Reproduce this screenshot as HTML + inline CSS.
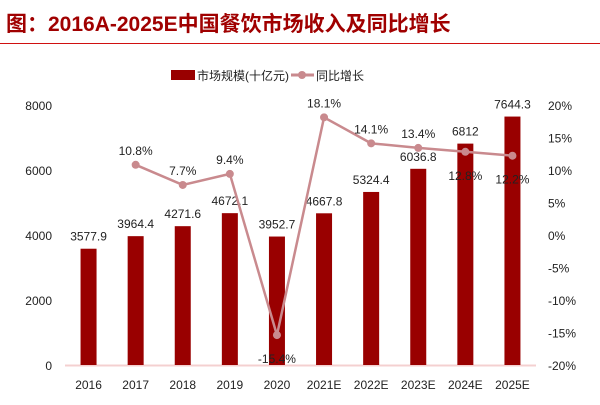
<!DOCTYPE html>
<html><head><meta charset="utf-8"><style>
body{margin:0;width:600px;height:400px;background:#fff;overflow:hidden;font-family:"Liberation Sans","Noto Sans CJK SC",sans-serif}
</style></head><body>
<svg width="600" height="400" style="font-family:'Liberation Sans','Noto Sans CJK SC',sans-serif">
<text x="6" y="31" font-size="21" font-weight="bold" fill="#a00000">图：2016A-2025E中国餐饮市场收入及同比增长</text>
<line x1="0" y1="43.5" x2="600" y2="43.5" stroke="#d01010" stroke-width="1"/>
<g>
<rect x="171" y="70" width="24" height="10" fill="#990000"/>
<text x="197" y="80" font-size="12" fill="#222">市场规模(十亿元)</text>
<line x1="291" y1="75" x2="314" y2="75" stroke="#c98a8e" stroke-width="3"/>
<circle cx="302" cy="75" r="4" fill="#c98a8e"/>
<text x="316" y="80" font-size="12" fill="#222">同比增长</text>
</g>
<g id="plot"></g>
</svg>
<script>
const categories=["2016","2017","2018","2019","2020","2021E","2022E","2023E","2024E","2025E"];
const revenue=[3577.9,3964.4,4271.6,4672.1,3952.7,4667.8,5324.4,6036.8,6812,7644.3];
const growth=[null,10.8,7.7,9.4,-15.4,18.1,14.1,13.4,12.8,12.2];
const below=[false,false,false,false,true,false,false,false,true,true];
const leftTicks=[0,2000,4000,6000,8000];
const rightTicks=[-20,-15,-10,-5,0,5,10,15,20];
const NS="http://www.w3.org/2000/svg";
const g=document.getElementById('plot');
const x0=65,x1=536,yTop=105,yBot=365;
const band=(x1-x0)/categories.length;
const xc=i=>x0+band*(i+0.5);
const yL=v=>yBot-(v/8000)*(yBot-yTop);
const yR=v=>yBot-((v+20)/40)*(yBot-yTop);
function el(t,a,txt){const e=document.createElementNS(NS,t);for(const k in a)e.setAttribute(k,a[k]);if(txt!=null)e.textContent=txt;g.appendChild(e);return e;}
leftTicks.forEach(v=>{const e=el('text',{x:52,y:yL(v)+5,'font-size':12,'text-anchor':'end',fill:'#222'},v);

});
rightTicks.forEach(v=>{const e=el('text',{x:548,y:yR(v)+5,'font-size':12,fill:'#222'},v+'%');

});
const ax=el('line',{x1:x0,y1:yBot+0.5,x2:x1,y2:yBot+0.5,stroke:'#f4d0d0','stroke-width':2});


categories.forEach((c,i)=>{
const b=el('rect',{x:xc(i)-8,y:yL(revenue[i]),width:16,height:yBot-yL(revenue[i]),fill:'#990000'});


const t=el('text',{x:xc(i),y:yL(revenue[i])-8,'font-size':12,'text-anchor':'middle',fill:'#222'},String(revenue[i]));


const xl=el('text',{x:xc(i),y:389,'font-size':12,'text-anchor':'middle',fill:'#222'},c);


});
let pts=[];growth.forEach((v,i)=>{if(v!=null)pts.push(xc(i)+','+yR(v));});
const pl=el('polyline',{points:pts.join(' '),fill:'none',stroke:'#c98a8e','stroke-width':2.5});


growth.forEach((v,i)=>{if(v==null)return;
const c=el('circle',{cx:xc(i),cy:yR(v),r:4,fill:'#c98a8e'});


const ly=below[i]?yR(v)+28:yR(v)-10;
const t=el('text',{x:xc(i),y:ly,'font-size':12,'text-anchor':'middle',fill:'#222'},v.toFixed(1)+'%');


});
</script>
</body></html>
